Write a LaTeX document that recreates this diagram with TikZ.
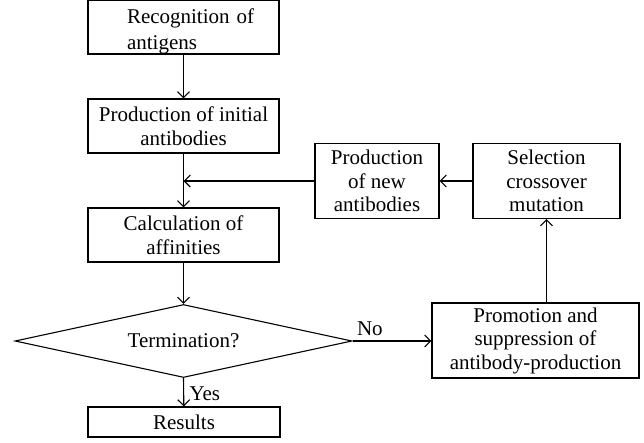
\documentclass[tikz,border=0pt]{standalone}
\usepackage{fontspec}
\setmainfont{Liberation Serif}
\usetikzlibrary{arrows.meta,shapes.geometric}
\begin{document}
\begin{tikzpicture}[x=1pt,y=1pt,
  font=\fontsize{21}{23.5}\selectfont,
  box/.style={draw, line width=1.1pt, inner sep=0pt, align=center},
  arr/.style={line width=1.1pt, -{Straight Barb[length=6pt,width=12pt,line width=1.1pt]}},
  ln/.style={line width=1.1pt}
]
\useasboundingbox (0,0) rectangle (644,-442);
% main column
\node[box, minimum width=191pt, minimum height=52pt, text width=113pt, inner xsep=39pt, align=left, font=\fontsize{21}{25.5}\selectfont] (rec) at (183.5,-27) {\rule{0pt}{24pt}\mbox{Recognition of}\\antigens};
\node[box, minimum width=191pt, minimum height=54pt] (init) at (183.5,-126) {Production of initial\\antibodies};
\node[box, minimum width=191pt, minimum height=54pt] (calc) at (183.5,-235) {Calculation of\\affinities};
\node[draw, line width=1.1pt, diamond, aspect=4.6, minimum width=337pt, minimum height=73pt, inner sep=0pt] (term) at (183.5,-341) {Termination?};
\node[box, minimum width=192pt, minimum height=30pt] (res) at (184,-422) {Results};
% right side
\node[box, minimum width=124pt, minimum height=75pt] (newab) at (377,-181) {Production\\of new\\antibodies};
\node[box, minimum width=147pt, minimum height=75pt] (sel) at (546.5,-181) {Selection\\crossover\\mutation};
\node[box, minimum width=207pt, minimum height=75pt] (prom) at (535.5,-340.5) {Promotion and\\suppression of\\antibody-production};
% connectors
\draw[arr] (rec) -- (init);
\draw[arr] (init) -- (calc);
\draw[arr] (calc) -- (term);
\draw[arr] (term.south) -- node[right, xshift=2pt, yshift=-1pt] {Yes} (res);
\draw[arr] (term.east) -- node[above, pos=0.22, yshift=1pt] {No} (prom.west |- term.east);
\draw[arr] (prom.north -| sel) -- (sel.south);
\draw[arr] (sel) -- (newab);
\draw[arr] (newab.west) -- (newab.west -| init.south);
\end{tikzpicture}
\end{document}
